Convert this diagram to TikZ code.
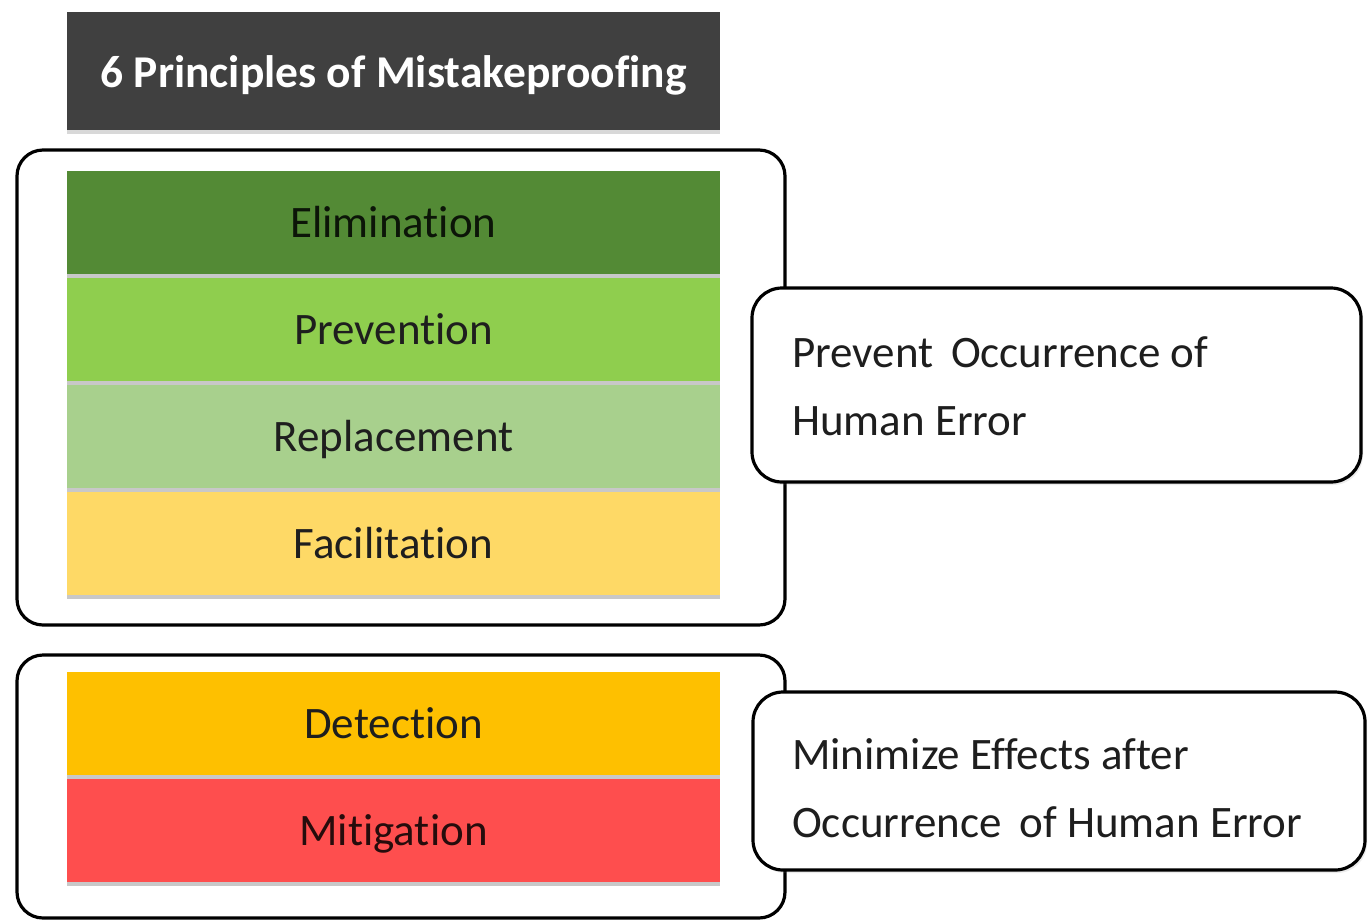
\documentclass[tikz,border=0pt]{standalone}
\usepackage{fontspec}
\setmainfont{Carlito}[Ligatures={NoCommon}]
\usetikzlibrary{shadows}
\definecolor{titlegray}{HTML}{404040}
\definecolor{elimgreen}{HTML}{538A35}
\definecolor{prevgreen}{HTML}{8FCE4E}
\definecolor{replgreen}{HTML}{A8D08D}
\definecolor{facilyellow}{HTML}{FED966}
\definecolor{detectorange}{HTML}{FEC000}
\definecolor{mitigred}{HTML}{FE4E4E}
\definecolor{inktext}{HTML}{1E1E1E}
\tikzset{
  barshadow/.style={drop shadow={shadow xshift=0pt, shadow yshift=-4pt, opacity=0.3, fill=black!70}},
  bar/.style={rectangle, inner sep=0pt, minimum width=653, minimum height=103, barshadow},
  barlabel/.style={anchor=base, inner sep=0pt, text=inktext, font=\fontsize{45}{54}\selectfont},
  frame/.style={rectangle, rounded corners=26, draw=black, line width=3.2pt, inner sep=0pt},
  notebox/.style={rectangle, rounded corners=30, draw=black, line width=3.2pt, fill=white, inner sep=0pt,
    drop shadow={shadow xshift=2pt, shadow yshift=-3pt, opacity=0.15}},
  notetext/.style={anchor=north west, inner sep=0pt, align=left, text=inktext,
    font=\fontsize{45}{68}\selectfont},
}
\begin{document}
\begin{tikzpicture}[x=1pt, y=-1pt]
  \useasboundingbox (0,0) rectangle (1369,922);
  \fill[white] (0,0) rectangle (1369,922);

  % heading
  \node[rectangle, inner sep=0pt, fill=titlegray, minimum width=653, minimum height=118,
        drop shadow={shadow xshift=0pt, shadow yshift=-4pt, opacity=0.3}]
        (title) at (393.5,71) {};
  \node[text=white, inner sep=0pt, anchor=base, font=\fontsize{45.5}{55}\selectfont\bfseries]
        (titletext) at (393.5,87) {6 Principles of Mistakeproofing};

  % group frames
  \node[frame, minimum width=768, minimum height=475] (groupA) at (401,387.5) {};
  \node[frame, minimum width=768, minimum height=263] (groupB) at (401,786.5) {};

  % explanation boxes
  \node[notebox, minimum width=609, minimum height=194] (noteA) at (1056.5,385) {};
  \node[notebox, minimum width=612, minimum height=178] (noteB) at (1059,781) {};
  \node[notetext] (noteAtext) at (792,336) {Prevent\, Occurrence of\\Human Error};
  \node[notetext] (noteBtext) at (792,738) {Minimize Effects after\\Occurrence\, of Human Error};

  % principle bars
  \node[bar, fill=elimgreen]   (elim)  at (393.5,222) {};
  \node[bar, fill=prevgreen]   (prev)  at (393.5,329) {};
  \node[bar, fill=replgreen]   (repl)  at (393.5,436) {};
  \node[bar, fill=facilyellow] (facil) at (393.5,543) {};
  \node[bar, fill=detectorange] (detect) at (393.5,723) {};
  \node[bar, fill=mitigred]    (mitig) at (393.5,830) {};

  \node[barlabel, text=black!85!elimgreen] (elimtext)   at (393.5,237) {Elimination};
  \node[barlabel] (prevtext)   at (393.5,344) {Prevention};
  \node[barlabel] (repltext)   at (393.5,451) {Replacement};
  \node[barlabel] (faciltext)  at (393.5,558) {Facilitation};
  \node[barlabel] (detecttext) at (393.5,738) {Detection};
  \node[barlabel, text=black!85!mitigred] (mitigtext)  at (393.5,845) {Mitigation};
\end{tikzpicture}
\end{document}
